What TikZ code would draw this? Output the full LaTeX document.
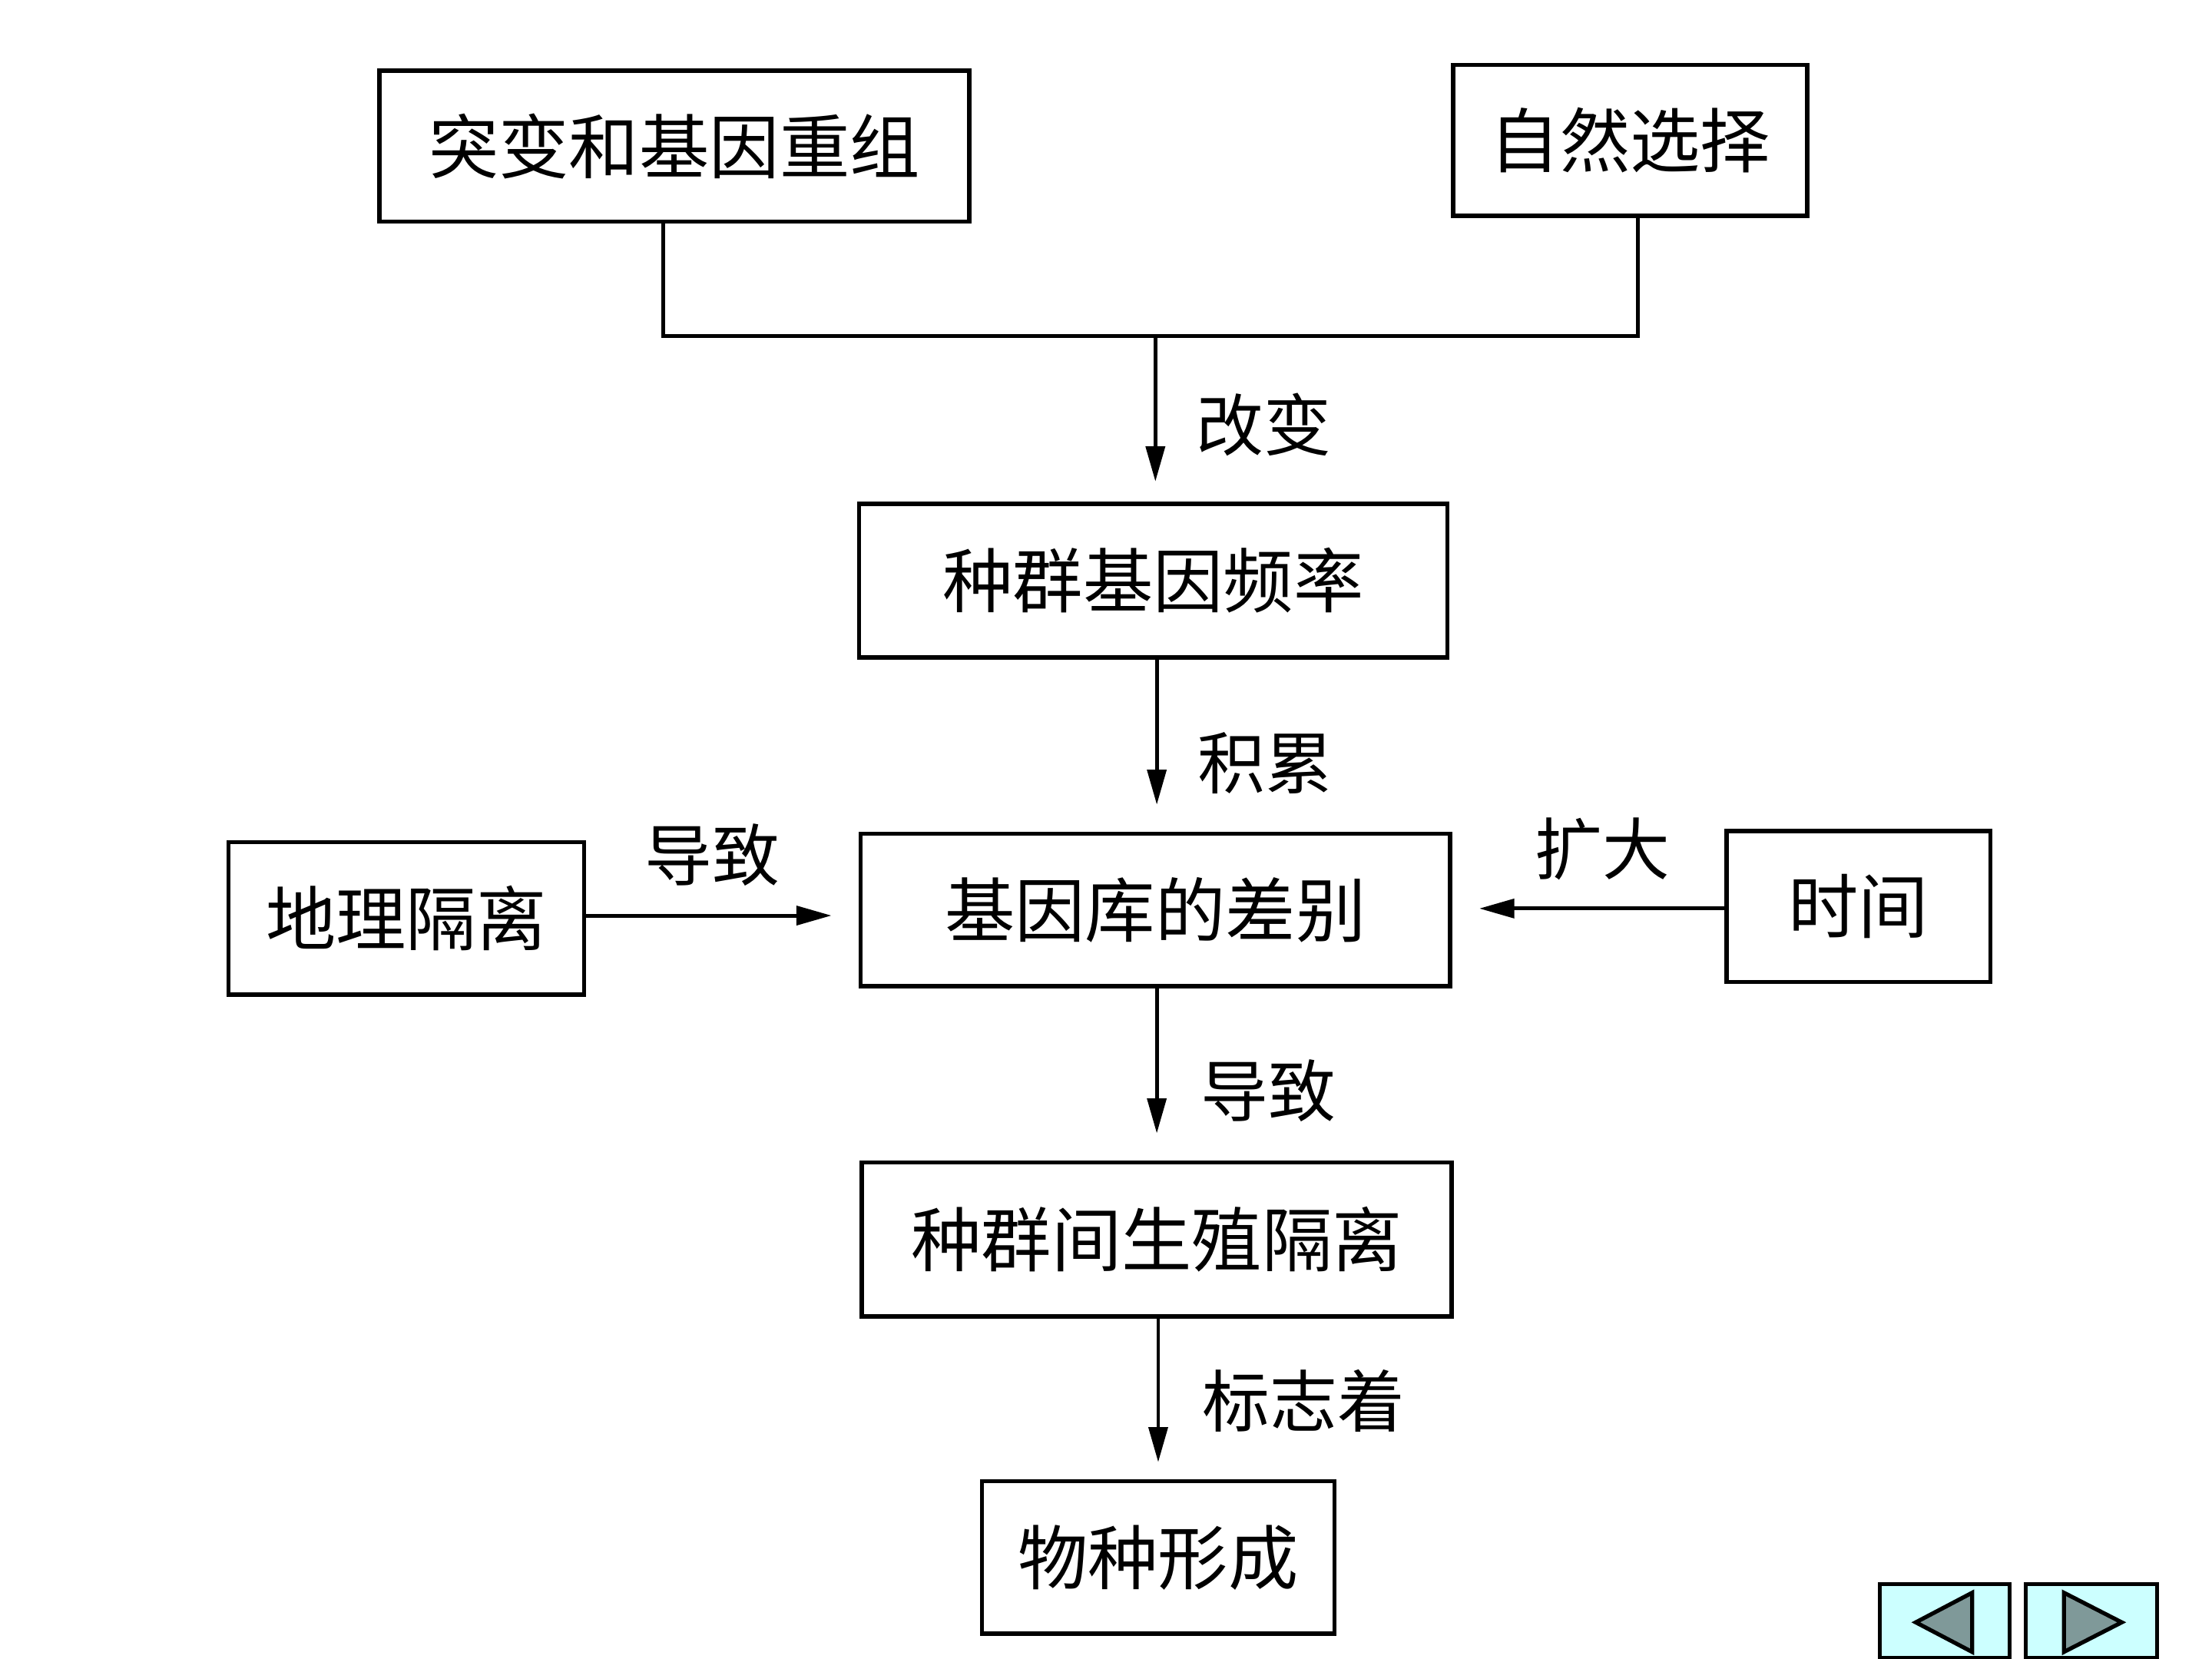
\documentclass[tikz,border=0pt]{standalone}
\usepackage{fontspec}
\setmainfont{Noto Sans CJK SC}
\usetikzlibrary{arrows.meta}
\def\pu{0.018367cm}
\definecolor{navbg}{HTML}{CCFFFF}
\definecolor{navtri}{HTML}{7F9999}
\tikzset{
  box/.style={draw, line width=1.6pt, inner sep=0pt, font=\fontsize{26}{26}\selectfont},
  lbl/.style={inner sep=0pt, font=\fontsize{25}{25}\selectfont},
  conn/.style={line width=1.4pt},
  arr/.style={conn, -{Triangle[length=13pt,width=7pt]}, shorten >=0.35cm},
  navbox/.style={draw, line width=1.5pt, fill=navbg, inner sep=0pt},
  navtr/.style={draw, line width=1.5pt, fill=navtri, line join=miter}
}
\begin{document}
\begin{tikzpicture}[x=\pu, y=-\pu]
\useasboundingbox (0,0) rectangle (1568,1176);
\fill[white] (0,0) rectangle (1568,1176);

\node[box, minimum width=418*\pu, minimum height=107*\pu] (b1) at (478,103.5) {突变和基因重组};
\node[box, minimum width=251*\pu, minimum height=107*\pu] (b2) at (1155.5,99.5) {自然选择};
\node[box, minimum width=417*\pu, minimum height=109*\pu] (b3) at (817.5,411.5) {种群基因频率};
\node[box, minimum width=418*\pu, minimum height=108*\pu] (b4) at (819,645) {基因库的差别};
\node[box, minimum width=252*\pu, minimum height=108*\pu] (b5) at (288,651) {地理隔离};
\node[box, minimum width=187*\pu, minimum height=107*\pu] (b6) at (1317.5,642.5) {时间};
\node[box, minimum width=418*\pu, minimum height=109*\pu] (b7) at (820,878.5) {种群间生殖隔离};
\node[box, minimum width=250*\pu, minimum height=108*\pu] (b8) at (821,1104) {物种形成};

\coordinate (j1) at (470,238);
\coordinate (j2) at (1161,238);
\coordinate (jm) at (819,238);
\draw[conn] (b1.south -| j1) -- (j1) -- (j2) -- (b2.south -| j2);
\draw[arr, shorten >=0.26cm] (jm) -- (jm |- b3.north);
\draw[arr] (b3.south -| 820,0) -- (b4.north -| 820,0);
\draw[arr] (b5.east |- 0,649) -- (b4.west |- 0,649);
\draw[arr] (b6.west |- 0,644) -- (b4.east |- 0,644);
\draw[arr] (b4.south -| 820,0) -- (b7.north -| 820,0);
\draw[arr, shorten >=0.22cm] (b7.south -| 821,0) -- (b8.north -| 821,0);

\node[lbl] (l1) at (896,301) {改变};
\node[lbl] (l2) at (897,541) {积累};
\node[lbl] (l3) at (505,606) {导致};
\node[lbl] (l4) at (1136,602) {扩大};
\node[lbl] (l5) at (899,773) {导致};
\node[lbl] (l6) at (924,993) {标志着};

\node[navbox, minimum width=92*\pu, minimum height=52*\pu] (n1) at (1378.5,1149) {};
\node[navbox, minimum width=93*\pu, minimum height=52*\pu] (n2) at (1482.5,1149) {};
\draw[navtr] (1358,1150) -- (1398,1129) -- (1398,1171) -- cycle;
\draw[navtr] (1504,1150) -- (1463,1129) -- (1463,1171) -- cycle;
\end{tikzpicture}
\end{document}
